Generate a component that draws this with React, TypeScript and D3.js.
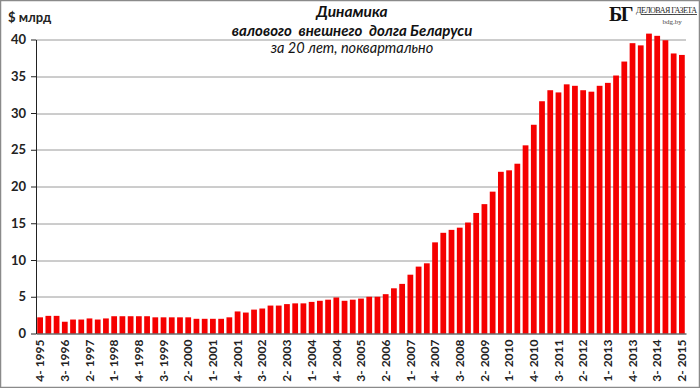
import { useEffect, useRef } from 'react';
import * as d3 from 'd3';

// quarter labels, 4-1995 .. 2-2015
const categories: string[] = [
  '4- 1995',
  '1- 1996', '2- 1996', '3- 1996', '4- 1996',
  '1- 1997', '2- 1997', '3- 1997', '4- 1997',
  '1- 1998', '2- 1998', '3- 1998', '4- 1998',
  '1- 1999', '2- 1999', '3- 1999', '4- 1999',
  '1- 2000', '2- 2000', '3- 2000', '4- 2000',
  '1- 2001', '2- 2001', '3- 2001', '4- 2001',
  '1- 2002', '2- 2002', '3- 2002', '4- 2002',
  '1- 2003', '2- 2003', '3- 2003', '4- 2003',
  '1- 2004', '2- 2004', '3- 2004', '4- 2004',
  '1- 2005', '2- 2005', '3- 2005', '4- 2005',
  '1- 2006', '2- 2006', '3- 2006', '4- 2006',
  '1- 2007', '2- 2007', '3- 2007', '4- 2007',
  '1- 2008', '2- 2008', '3- 2008', '4- 2008',
  '1- 2009', '2- 2009', '3- 2009', '4- 2009',
  '1- 2010', '2- 2010', '3- 2010', '4- 2010',
  '1- 2011', '2- 2011', '3- 2011', '4- 2011',
  '1- 2012', '2- 2012', '3- 2012', '4- 2012',
  '1- 2013', '2- 2013', '3- 2013', '4- 2013',
  '1- 2014', '2- 2014', '3- 2014', '4- 2014',
  '1- 2015', '2- 2015'
];

// gross external debt, $ bn
const debt: number[] = [
  2.2,
  2.4, 2.4, 1.6, 1.9,
  1.9, 2.05, 1.9, 2.05,
  2.35, 2.35, 2.35, 2.35,
  2.35, 2.2, 2.2, 2.2,
  2.2, 2.2, 2.0, 2.0,
  2.0, 2.0, 2.2, 3.0,
  2.85, 3.25, 3.4, 3.8,
  3.8, 4.0, 4.1, 4.1,
  4.3, 4.45, 4.6, 4.9,
  4.45, 4.6, 4.75, 5.0,
  5.0, 5.35, 6.15, 6.75,
  8.0, 9.1, 9.55, 12.4,
  13.7, 14.1, 14.4, 15.1,
  16.4, 17.6, 19.3, 22.0,
  22.2, 23.1, 25.6, 28.4,
  31.6, 33.1, 32.8, 33.9,
  33.7, 33.1, 32.9, 33.7,
  34.1, 35.1, 37.0, 39.5,
  39.2, 40.8, 40.5, 39.9,
  38.1, 37.9
];

const yTicks: number[] = [0, 5, 10, 15, 20, 25, 30, 35, 40];

const titleLines: string[] = [
  'Динамика',
  'валового  внешнего  долга Беларуси',
  'за 20 лет, поквартально'
];

const W = 700;
const H = 388;
const FONT = 'Lato, "Open Sans", sans-serif';

export default function App() {
  const svgRef = useRef<SVGSVGElement>(null);

  useEffect(() => {
    if (!svgRef.current) return;
    const svg = d3.select(svgRef.current);
    svg.selectAll('*').remove();

    const margin = { top: 39.5, right: 14, bottom: 54.5, left: 36 };
    const width = W - margin.left - margin.right;
    const height = H - margin.top - margin.bottom;

    // background + frame
    svg.append('rect')
      .attr('x', 0.5).attr('y', 0.5)
      .attr('width', W - 1).attr('height', H - 1)
      .attr('fill', '#fff')
      .attr('stroke', '#8a8a8a')
      .attr('stroke-width', 1.5);

    const g = svg.append('g')
      .attr('transform', `translate(${margin.left},${margin.top})`);

    const x = d3.scaleBand<string>()
      .domain(categories)
      .range([0, width])
      .paddingInner(0.3)
      .paddingOuter(0.15);

    const y = d3.scaleLinear().domain([0, 40]).range([height, 0]);

    // grid
    g.append('g')
      .selectAll('line')
      .data(yTicks.filter((t) => t > 0))
      .enter()
      .append('line')
      .attr('x1', 0)
      .attr('x2', width)
      .attr('y1', (d) => Math.round(y(d)) + 0.5)
      .attr('y2', (d) => Math.round(y(d)) + 0.5)
      .attr('stroke', '#9a9a9a')
      .attr('stroke-width', 1);

    // bars
    g.selectAll('.bar')
      .data(debt)
      .enter()
      .append('rect')
      .attr('class', 'bar')
      .attr('x', (_, i) => x(categories[i]) ?? 0)
      .attr('y', (d) => y(d))
      .attr('width', x.bandwidth())
      .attr('height', (d) => height - y(d))
      .attr('fill', '#f50000');

    // y axis
    const yAxis = g.append('g')
      .call(d3.axisLeft(y).tickValues(yTicks).tickSize(5).tickSizeOuter(0).tickPadding(5));
    yAxis.select('.domain').attr('stroke', '#222');
    yAxis.selectAll('.tick line').attr('stroke', '#222');
    yAxis.selectAll('text')
      .attr('font-family', FONT)
      .attr('font-size', 13)
      .attr('font-weight', 700)
      .attr('fill', '#222');

    // x axis
    const xAxis = g.append('g')
      .attr('transform', `translate(0,${height})`)
      .call(
        d3.axisBottom(x)
          .tickValues(categories.filter((_, i) => i % 3 === 0))
          .tickSize(0)
          .tickSizeOuter(0)
      );
    xAxis.select('.domain').attr('stroke', '#222').attr('stroke-width', 1.2);
    xAxis.selectAll('text')
      .attr('font-family', FONT)
      .attr('font-size', 12)
      .attr('font-weight', 700)
      .attr('fill', '#222')
      .attr('text-anchor', 'end')
      .attr('dy', '0.35em')
      .attr('transform', 'translate(0,6) rotate(-90)')
      .attr('x', 0)
      .attr('y', 0);

    // unit label
    svg.append('text')
      .attr('x', 8)
      .attr('y', 22)
      .attr('font-family', FONT)
      .attr('font-size', 13)
      .attr('font-weight', 700)
      .attr('fill', '#222')
      .text('$ млрд');

    // title
    const titleY = [17, 36, 53];
    const titleSize = [15.5, 15, 14.5];
    titleLines.forEach((t, i) => {
      svg.append('text')
        .attr('x', 352)
        .attr('y', titleY[i])
        .attr('text-anchor', 'middle')
        .attr('font-family', FONT)
        .attr('font-size', titleSize[i])
        .attr('font-style', 'italic')
        .attr('font-weight', i === 2 ? 400 : 700)
        .attr('fill', '#111')
        .style('white-space', 'pre')
        .text(t);
    });

    // logo
    svg.append('text')
      .attr('x', 609)
      .attr('y', 21)
      .attr('font-family', '"Liberation Serif", serif')
      .attr('font-size', 20)
      .attr('font-weight', 700)
      .attr('fill', '#111')
      .attr('letter-spacing', -1.5)
      .text('БГ');
    svg.append('text')
      .attr('x', 636)
      .attr('y', 13)
      .attr('font-family', '"Liberation Serif", serif')
      .attr('font-size', 8)
      .attr('fill', '#222')
      .attr('text-decoration', 'underline')
      .attr('textLength', 61)
      .text('ДЕЛОВАЯ ГАЗЕТА');
    svg.append('text')
      .attr('x', 672)
      .attr('y', 24)
      .attr('text-anchor', 'middle')
      .attr('font-family', '"Liberation Serif", serif')
      .attr('font-size', 7)
      .attr('fill', '#444')
      .text('bdg.by');
  }, []);

  return (
    <div style={{ position: 'absolute', left: 0, top: 0 }}>
      <svg ref={svgRef} width={W} height={H} style={{ display: 'block' }} />
    </div>
  );
}
